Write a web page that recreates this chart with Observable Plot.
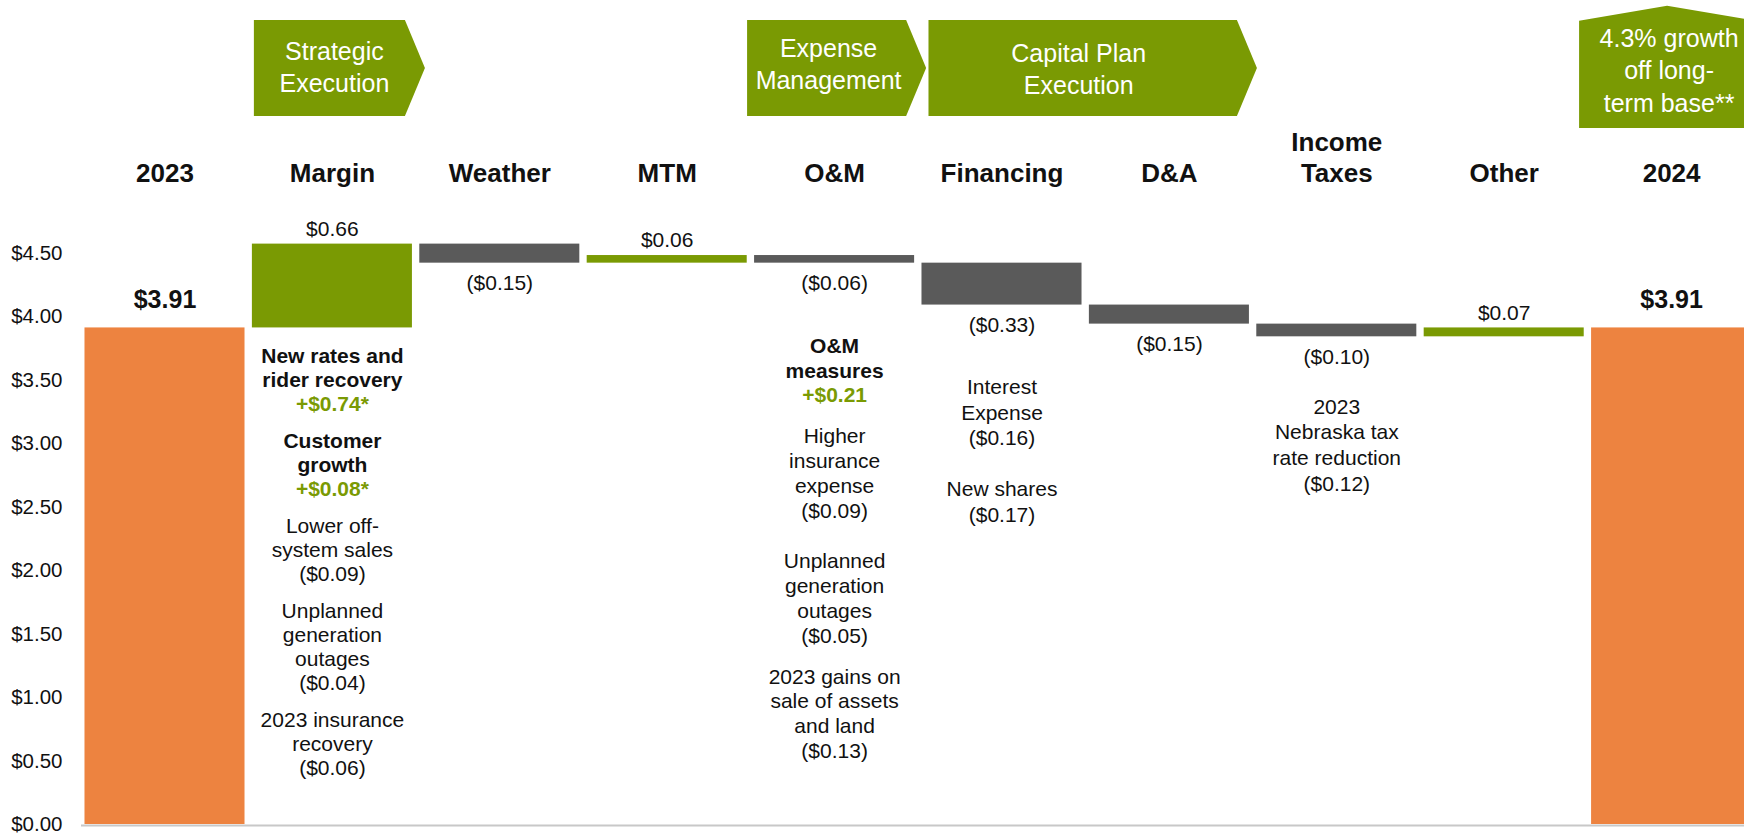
<!DOCTYPE html>
<html>
<head>
<meta charset="utf-8">
<script src="https://cdn.jsdelivr.net/npm/d3@7"></script>
<script src="https://cdn.jsdelivr.net/npm/@observablehq/plot@0.6"></script>
<style>
  html, body { margin: 0; padding: 0; background: #fff; overflow: hidden; }
  #chart { width: 1744px; height: 835px; overflow: hidden; }
</style>
</head>
<body>
<div id="chart"></div>
<script>
// ---------------- DATA ----------------
const categories = ["2023", "Margin", "Weather", "MTM", "O&M", "Financing", "D&A", "Income Taxes", "Other", "2024"];
const headerLabels = ["2023", "Margin", "Weather", "MTM", "O&M", "Financing", "D&A", "Income\nTaxes", "Other", "2024"];
const amounts = [3.91, 0.66, -0.15, 0.06, -0.06, -0.33, -0.15, -0.10, 0.07, 3.91];
const kinds = ["total", "delta", "delta", "delta", "delta", "delta", "delta", "delta", "delta", "total"];
const yTicks = [0, 0.5, 1, 1.5, 2, 2.5, 3, 3.5, 4, 4.5];

// driver notes under bars: [role, text]
const marginNotes = [
  ["heading", "New rates and\nrider recovery"],
  ["gain", "+$0.74*"],
  ["heading", "Customer\ngrowth"],
  ["gain", "+$0.08*"],
  ["item", "Lower off-\nsystem sales\n($0.09)"],
  ["item", "Unplanned\ngeneration\noutages\n($0.04)"],
  ["item", "2023 insurance\nrecovery\n($0.06)"]
];
const omNotes = [
  ["heading", "O&M\nmeasures"],
  ["gain", "+$0.21"],
  ["item", "Higher\ninsurance\nexpense\n($0.09)"],
  ["item", "Unplanned\ngeneration\noutages\n($0.05)"],
  ["item", "2023 gains on\nsale of assets\nand land\n($0.13)"]
];
const financingNotes = [
  ["item", "Interest\nExpense\n($0.16)"],
  ["item", "New shares\n($0.17)"]
];
const taxNotes = [
  ["item", "2023\nNebraska tax\nrate reduction\n($0.12)"]
];

const banners = [
  {lines: ["Strategic", "Execution"], from: "Margin", to: "Margin"},
  {lines: ["Expense", "Management"], from: "O&M", to: "O&M"},
  {lines: ["Capital Plan", "Execution"], from: "Financing", to: "D&A"}
];
const badge = {lines: ["4.3% growth", "off long-", "term base**"], over: "2024"};

// ---------------- LAYOUT / STYLE ----------------
const FONT = "'Liberation Sans', Arial, Helvetica, sans-serif";
const ORANGE = "#ED8340";
const GREEN = "#7A9A03";
const GREY = "#5A5A5A";
const INK = "#111111";

const noteLayout = {
  "Margin":       {notes: marginNotes,    start: 28, step: 24,   gaps: [0, 0, 13, 0, 13, 13, 13]},
  "O&M":          {notes: omNotes,        start: 83, step: 24.8, gaps: [0, 0, 16, 26, 16]},
  "Financing":    {notes: financingNotes, start: 82, step: 25.8, gaps: [0, 24.6]},
  "Income Taxes": {notes: taxNotes,       start: 70, step: 25.8, gaps: [0]}
};
const bannerLayout = [
  {dx0: 2, dx1: 13, textX: 5, textY: [51.5, 83]},
  {dx0: -7, dx1: 12, textX: 2, textY: [48.5, 80]},
  {dx0: 7, dx1: 8, textX: -4, textY: [53, 85]}
];

// ---------------- WATERFALL TABLE ----------------
let running = 0;
const table = categories.map((c, i) => {
  let y1, y2;
  if (kinds[i] === "total") { y1 = 0; y2 = amounts[i]; running = amounts[i]; }
  else { y1 = running; y2 = running + amounts[i]; running = y2; }
  const v = amounts[i];
  const label = v < 0 ? `($${Math.abs(v).toFixed(2)})` : `$${v.toFixed(2)}`;
  const fill = kinds[i] === "total" ? "total" : (v >= 0 ? "up" : "down");
  return {cat: c, y1, y2, lo: Math.min(y1, y2), hi: Math.max(y1, y2), label, kind: kinds[i], fill, v};
});

// ---------------- NOTE MARKS ----------------
const roleStyle = {
  heading: {fill: INK, fontWeight: "bold"},
  gain: {fill: GREEN, fontWeight: "bold"},
  item: {fill: INK, fontWeight: "normal"}
};
const noteMarks = [];
for (const [cat, cfg] of Object.entries(noteLayout)) {
  const row = table.find(d => d.cat === cat);
  let off = cfg.start - cfg.step;
  cfg.notes.forEach(([role, text], bi) => {
    text.split("\n").forEach((line, li) => {
      off += cfg.step + (li === 0 ? cfg.gaps[bi] : 0);
      if (bi === 0 && li === 0) off = cfg.start;
      noteMarks.push(Plot.text([row], {
        x: "cat", y: "lo", text: () => line, dy: off,
        fontSize: 21, lineAnchor: "middle", textAnchor: "middle",
        ...roleStyle[role]
      }));
    });
  });
}

// ---------------- PLOT ----------------
const plot = Plot.plot({
  width: 1744,
  height: 835,
  marginLeft: 81,
  marginRight: 0,
  marginTop: 181,
  marginBottom: 10,
  style: {fontFamily: FONT, background: "white", color: INK, overflow: "hidden"},
  x: {domain: categories, range: [80.8, 1754.8], paddingInner: 0.044, paddingOuter: 0.022, round: false, axis: null, label: null},
  y: {domain: [0, 4.5], range: [824, 252.5], axis: null, label: null},
  color: {domain: ["total", "up", "down"], range: [ORANGE, GREEN, GREY]},
  marks: [
    Plot.axisY({ticks: yTicks, tickFormat: d => "$" + d.toFixed(2), tickSize: 0, tickPadding: 19, fontSize: 20.5, fill: INK, label: null}),
    Plot.axisX({anchor: "top", tickSize: 0, tickPadding: 0, fontSize: 26, fontWeight: "bold", fill: INK, lineHeight: 1.17, label: null,
      tickFormat: d => headerLabels[categories.indexOf(d)]}),
    Plot.barY(table, {x: "cat", y1: "y1", y2: "y2", fill: "fill"}),
    Plot.ruleY([0], {stroke: "#c8c8c8", strokeWidth: 2, dy: 1}),
    Plot.text(table.filter(d => d.kind === "total"), {x: "cat", y: "hi", text: "label", dy: -28, fontSize: 25, fontWeight: "bold", fill: INK}),
    Plot.text(table.filter(d => d.kind === "delta" && d.v >= 0), {x: "cat", y: "hi", text: "label", dy: -15, fontSize: 21, fill: INK}),
    Plot.text(table.filter(d => d.kind === "delta" && d.v < 0), {x: "cat", y: "lo", text: "label", dy: 20, fontSize: 21, fill: INK}),
    ...noteMarks
  ]
});

document.getElementById("chart").appendChild(plot);

// ---------------- BANNERS (positioned with Plot's x scale) ----------------
const xs = plot.scale("x");
const bw = xs.bandwidth;
const svg = d3.select(plot);
const g = svg.append("g").attr("class", "banners");
const TOP = 20, BOT = 116, TIP = 20;
banners.forEach((b, i) => {
  const L = bannerLayout[i];
  const left = xs.apply(b.from) + L.dx0;
  const tip = xs.apply(b.to) + bw + L.dx1;
  const rectEnd = tip - TIP;
  const mid = (TOP + BOT) / 2;
  g.append("polygon")
    .attr("points", [[left, TOP], [rectEnd, TOP], [tip, mid], [rectEnd, BOT], [left, BOT]].map(p => p.join(",")).join(" "))
    .attr("fill", GREEN);
  const cx = (left + rectEnd) / 2 + L.textX;
  b.lines.forEach((line, j) => {
    g.append("text")
      .attr("x", cx).attr("y", L.textY[j]).attr("dy", "0.35em")
      .attr("text-anchor", "middle")
      .attr("font-family", FONT).attr("font-size", 25).attr("fill", "white")
      .text(line);
  });
});
// growth badge (house-shaped, over 2024 column)
{
  const start = xs.apply(badge.over);
  const left = start - 12;
  const apex = left + 88;
  const right = apex + 88;
  g.append("polygon")
    .attr("points", [[left, 128], [left, 20.7], [apex, 5.7], [right, 20.7], [right, 128]].map(p => p.join(",")).join(" "))
    .attr("fill", GREEN);
  const ys = [38.5, 70.5, 103];
  badge.lines.forEach((line, j) => {
    g.append("text")
      .attr("x", apex + 2).attr("y", ys[j]).attr("dy", "0.35em")
      .attr("text-anchor", "middle")
      .attr("font-family", FONT).attr("font-size", 25).attr("fill", "white")
      .text(line);
  });
}
</script>
</body>
</html>
